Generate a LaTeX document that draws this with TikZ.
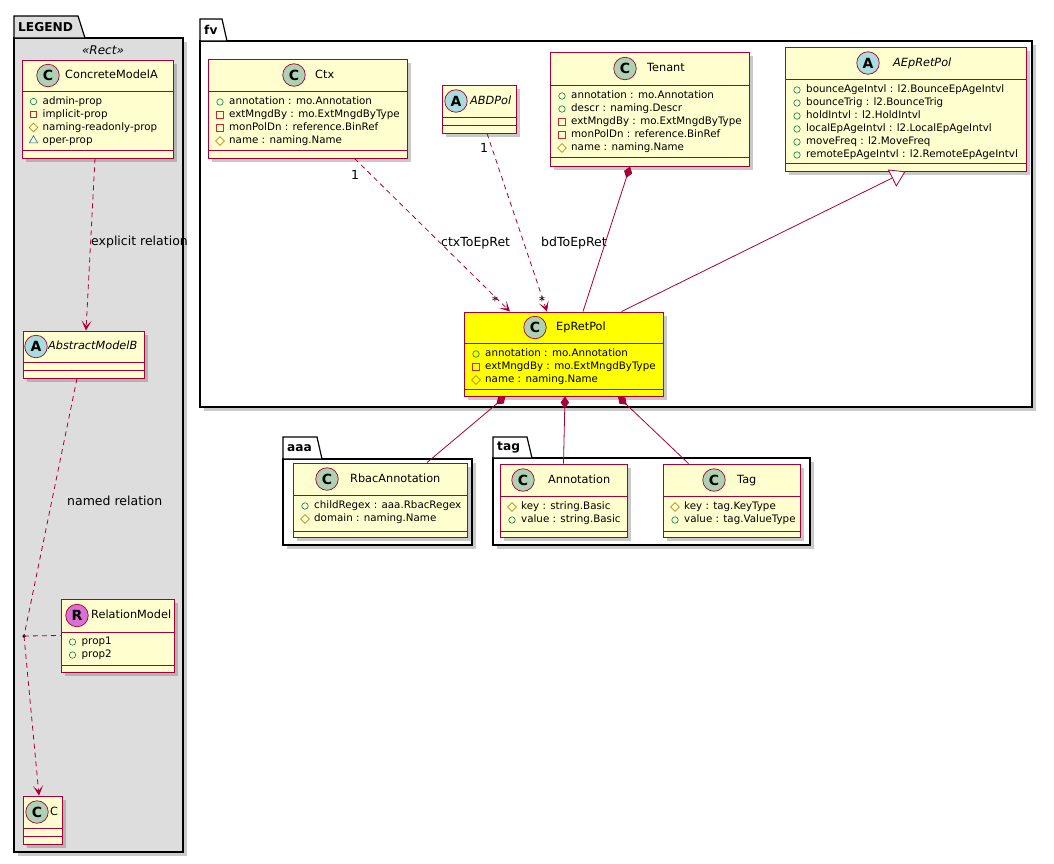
\documentclass[tikz,border=0pt]{standalone}
\usepackage{fontspec}
\setmainfont{DejaVu Sans}
\usetikzlibrary{shapes.geometric,arrows.meta,fit,shadows,calc}
\definecolor{cfill}{HTML}{FEFECE}
\definecolor{cbord}{HTML}{A80036}
\definecolor{cC}{HTML}{ADD1B2}
\definecolor{cA}{HTML}{A9DCDF}
\definecolor{cR}{HTML}{DA6FD5}
\definecolor{pubc}{HTML}{038048}
\definecolor{privc}{HTML}{C82930}
\definecolor{protc}{HTML}{B38D22}
\definecolor{pkgc}{HTML}{1963A0}
\definecolor{legbg}{HTML}{DDDDDD}
\definecolor{epyel}{HTML}{FFFF00}
\newcommand\ubox[8]{%
  \node[cls, fill=#6, fit={(#2,#3) (#4,#5)}] (#1) {};
  \draw[sepl] (#2,#7) -- (#4,#7);
  \draw[sepl] (#2,#8) -- (#4,#8);}
\newcommand\uhead[8]{%
  \node[circ, fill=#5] (#1c) at (#2,#3) {#4};
  \node[ttl,#8] (#1t) at (#6,#3) {#7};}
\newcommand\uattr[5]{%
  \node[#2] (#1i) at (#3,#4) {};
  \node[attr] (#1) at (#3+9,#4) {#5};}
\begin{document}
\begin{tikzpicture}[x=1pt,y=-1pt,
  shad/.style={drop shadow={shadow xshift=4pt,shadow yshift=-4pt,fill=black!60,opacity=0.35}},
  cls/.style={draw=cbord, line width=0.9pt, inner sep=0pt, shad},
  sepl/.style={draw=cbord, line width=0.9pt},
  circ/.style={circle, draw=cbord, line width=0.7pt, minimum size=22.5pt, inner sep=0pt, font=\fontsize{14}{14}\selectfont\bfseries},
  ttl/.style={anchor=west, inner sep=0pt, text height=8.6pt, text depth=2.5pt, font=\fontsize{11.3}{13}\selectfont},
  ital/.style={font=\fontsize{11.3}{13}\selectfont\itshape},
  attr/.style={anchor=west, inner sep=0pt, text height=7.6pt, text depth=2.3pt, font=\fontsize{10.3}{12}\selectfont},
  pub/.style={circle, draw=pubc, line width=0.6pt, minimum size=6.5pt, inner sep=0pt},
  priv/.style={rectangle, draw=privc, line width=0.6pt, minimum size=6.5pt, inner sep=0pt},
  prot/.style={diamond, draw=protc, line width=0.6pt, minimum size=9pt, inner sep=0pt},
  pkgv/.style={regular polygon, regular polygon sides=3, draw=pkgc, line width=0.6pt, minimum size=9.5pt, inner sep=0pt},
  pkgbody/.style={draw=black, line width=1.2pt, inner sep=0pt, shad},
  pkgtab/.style={draw=black, line width=1.2pt},
  pkglbl/.style={anchor=west, inner sep=0pt, font=\fontsize{12.2}{13}\selectfont\bfseries},
  conn/.style={draw=cbord, line width=0.8pt},
  dsh/.style={conn, dash pattern=on 5pt off 4pt},
  dep/.style={dsh, -{Stealth[length=10pt,width=10pt,inset=5.5pt]}},
  comp/.style={conn, {Diamond[length=12pt,width=8.5pt]}-},
  inh/.style={conn, {Triangle[open,length=15pt,width=19pt,fill=white]}-},
  lbl/.style={inner sep=0pt, font=\fontsize{12.5}{14}\selectfont},
  dotn/.style={circle, fill=black, minimum size=3.5pt, inner sep=0pt}
]
\useasboundingbox (0,0) rectangle (1054,863);

% ---------- packages ----------
\node[pkgbody, fill=legbg, fit={(14,38) (183,852)}] (legend) {};
\draw[pkgtab, fill=legbg] (14,38) -- (14,16) -- (78,16) -- (85,38) -- cycle;
\node[pkglbl] (legendl) at (18,27) {LEGEND};
\node[inner sep=0pt, font=\fontsize{12}{13}\selectfont\itshape] (rectst) at (103,50) {«Rect»};

\node[pkgbody, fill=white, fit={(200,41) (1032,407)}] (fv) {};
\draw[pkgtab, fill=white] (200,41) -- (200,19) -- (222,19) -- (227,41) -- cycle;
\node[pkglbl] (fvl) at (204,30) {fv};

\node[pkgbody, fill=white, fit={(283,459) (472,545)}] (aaa) {};
\draw[pkgtab, fill=white] (283,459) -- (283,437) -- (317,437) -- (322,459) -- cycle;
\node[pkglbl] (aaal) at (287,448) {aaa};

\node[pkgbody, fill=white, fit={(493,458) (810,545)}] (tag) {};
\draw[pkgtab, fill=white] (493,458) -- (493,437) -- (527,437) -- (532,458) -- cycle;
\node[pkglbl] (tagl) at (497,447.5) {tag};

% ---------- legend classes ----------
\ubox{cma}{22}{60}{173}{158}{cfill}{91}{150}
\uhead{cma}{48}{75.5}{C}{cC}{65}{ConcreteModelA}{}
\uattr{cma1}{pub}{33.5}{101.5}{admin-prop}
\uattr{cma2}{priv}{33.5}{114.5}{implicit-prop}
\uattr{cma3}{prot}{33.5}{127.5}{naming-readonly-prop}
\uattr{cma4}{pkgv}{33.5}{140.5}{oper-prop}

\ubox{amb}{23}{331}{144}{378}{cfill}{362}{370}
\uhead{amb}{36}{346.5}{A}{cA}{48}{AbstractModelB}{ital}

\ubox{rm}{61}{599}{174}{672}{cfill}{632}{665}
\uhead{rm}{77}{615.5}{R}{cR}{91}{RelationModel}{}
\uattr{rm1}{pub}{72.5}{642}{prop1}
\uattr{rm2}{pub}{72.5}{655}{prop2}

\ubox{cc}{23}{796}{62}{844}{cfill}{828}{836}
\uhead{cc}{37}{812}{C}{cC}{50}{C}{}

% ---------- fv classes ----------
\ubox{ctx}{208}{59}{407}{158}{cfill}{91}{150}
\uhead{ctx}{294}{75}{C}{cC}{315}{Ctx}{}
\uattr{ctx1}{pub}{220}{102}{annotation : mo.Annotation}
\uattr{ctx2}{priv}{220}{115}{extMngdBy : mo.ExtMngdByType}
\uattr{ctx3}{priv}{220}{128}{monPolDn : reference.BinRef}
\uattr{ctx4}{prot}{220}{141}{name : naming.Name}

\ubox{abd}{442}{85}{516}{133}{cfill}{117}{125}
\uhead{abd}{456}{101}{A}{cA}{470}{ABDPol}{ital}

\ubox{ten}{550}{52}{749}{166}{cfill}{85}{157}
\uhead{ten}{625}{68.5}{C}{cC}{647}{Tenant}{}
\uattr{ten1}{pub}{562}{96}{annotation : mo.Annotation}
\uattr{ten2}{pub}{562}{109}{descr : naming.Descr}
\uattr{ten3}{priv}{562}{122}{extMngdBy : mo.ExtMngdByType}
\uattr{ten4}{priv}{562}{135}{monPolDn : reference.BinRef}
\uattr{ten5}{prot}{562}{148}{name : naming.Name}

\ubox{aep}{785}{47}{1026}{171}{cfill}{79}{163}
\uhead{aep}{868}{63}{A}{cA}{893}{AEpRetPol}{ital}
\uattr{aep1}{pub}{797}{90}{bounceAgeIntvl : l2.BounceEpAgeIntvl}
\uattr{aep2}{pub}{797}{103}{bounceTrig : l2.BounceTrig}
\uattr{aep3}{pub}{797}{116}{holdIntvl : l2.HoldIntvl}
\uattr{aep4}{pub}{797}{129}{localEpAgeIntvl : l2.LocalEpAgeIntvl}
\uattr{aep5}{pub}{797}{142}{moveFreq : l2.MoveFreq}
\uattr{aep6}{pub}{797}{155}{remoteEpAgeIntvl : l2.RemoteEpAgeIntvl}

\ubox{ep}{464}{312}{663}{396}{epyel}{343}{389}
\uhead{ep}{535}{327.5}{C}{cC}{556}{EpRetPol}{}
\uattr{ep1}{pub}{476}{354}{annotation : mo.Annotation}
\uattr{ep2}{priv}{476}{367}{extMngdBy : mo.ExtMngdByType}
\uattr{ep3}{prot}{476}{380}{name : naming.Name}

% ---------- aaa / tag classes ----------
\ubox{rbac}{293}{463}{467}{537}{cfill}{495}{531}
\uhead{rbac}{327}{479}{C}{cC}{350}{RbacAnnotation}{}
\uattr{rbac1}{pub}{305}{506}{childRegex : aaa.RbacRegex}
\uattr{rbac2}{prot}{305}{519}{domain : naming.Name}

\ubox{ann}{500}{464}{627}{537}{cfill}{496}{531}
\uhead{ann}{523}{480}{C}{cC}{548}{Annotation}{}
\uattr{ann1}{prot}{512}{507}{key : string.Basic}
\uattr{ann2}{pub}{512}{520}{value : string.Basic}

\ubox{tagc}{663}{464}{800}{537}{cfill}{496}{531}
\uhead{tagc}{714}{480}{C}{cC}{737}{Tag}{}
\uattr{tagc1}{prot}{675}{507}{key : tag.KeyType}
\uattr{tagc2}{pub}{675}{520}{value : tag.ValueType}

% ---------- connectors ----------
\node[dotn] (rdot) at (24,636) {};
\draw[dep] ([xshift=-2.5pt]cma.south) -- ([xshift=2.5pt]amb.north);
\draw[dsh] ([xshift=-6.5pt]amb.south) -- (rdot.center);
\draw[dep] (rdot.center) -- ([xshift=-3.5pt]cc.north);
\draw[dsh] (rdot.center) -- (rm.west);
\node[lbl, anchor=west] (lexp) at (91,242) {explicit relation};
\node[lbl, anchor=west] (lnamed) at (67,501) {named relation};

\draw[dep] ([xshift=47pt]ctx.south) -- ([xshift=-53.5pt]ep.north);
\draw[dep] ([xshift=8pt]abd.south) -- ([xshift=-16.5pt]ep.north);
\draw[comp] ([xshift=-19.5pt]ten.south) -- ([xshift=19.5pt]ep.north);
\draw[inh] (aep.south) -- ([xshift=58pt]ep.north);
\draw[comp] ([xshift=-58pt]ep.south) -- ([xshift=47pt]rbac.north);
\draw[comp] ([xshift=1.5pt]ep.south) -- (ann.north);
\draw[comp] ([xshift=54.5pt]ep.south) -- ([xshift=-43pt]tagc.north);

\node[lbl] (m1) at (355,175) {1};
\node[lbl] (m2) at (495,301) {*};
\node[lbl] (m3) at (484,148) {1};
\node[lbl] (m4) at (542,301) {*};
\node[lbl, anchor=west] (lctx) at (441,243) {ctxToEpRet};
\node[lbl, anchor=west] (lbd) at (541,243) {bdToEpRet};
\end{tikzpicture}
\end{document}
